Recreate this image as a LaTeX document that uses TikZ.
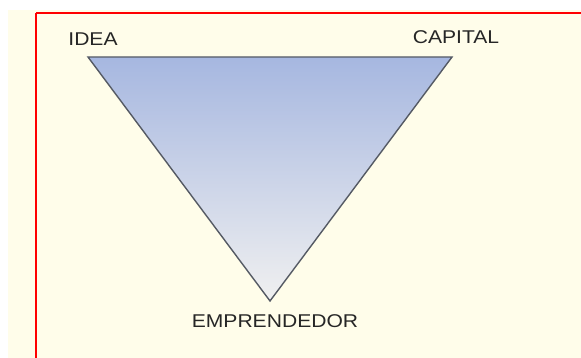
\documentclass[tikz,border=0pt]{standalone}
\usepackage{fontspec}
\setmainfont{Liberation Sans}
\definecolor{cream}{RGB}{255,253,234}
\definecolor{triTop}{RGB}{166,183,224}
\definecolor{triBot}{RGB}{240,240,240}
\definecolor{edgeC}{RGB}{85,90,100}
\begin{document}
\begin{tikzpicture}[x=1pt,y=-1pt,
  lbl/.style={font=\fontsize{18.5}{22}\selectfont, text=black!85, inner sep=0pt, xscale=1.14}]
\useasboundingbox (0,0) rectangle (581,358);
\fill[white] (0,0) rectangle (581,358);
\fill[cream] (8,10) rectangle (581,358);
\draw[red, line width=2pt] (36,13) -- (581,13);
\draw[red, line width=2pt] (36,13) -- (36,358);
\coordinate (A) at (88,57);
\coordinate (B) at (452,57);
\coordinate (C) at (270,301);
\shade[top color=triTop, bottom color=triBot] (A) -- (B) -- (C) -- cycle;
\draw[edgeC, line width=1.4pt, line join=miter] (A) -- (B) -- (C) -- cycle;
\node[lbl] (idea) at (93,39) {IDEA};
\node[lbl] (cap) at (456,37) {CAPITAL};
\node[lbl] (emp) at (275,321) {EMPRENDEDOR};
\end{tikzpicture}
\end{document}
